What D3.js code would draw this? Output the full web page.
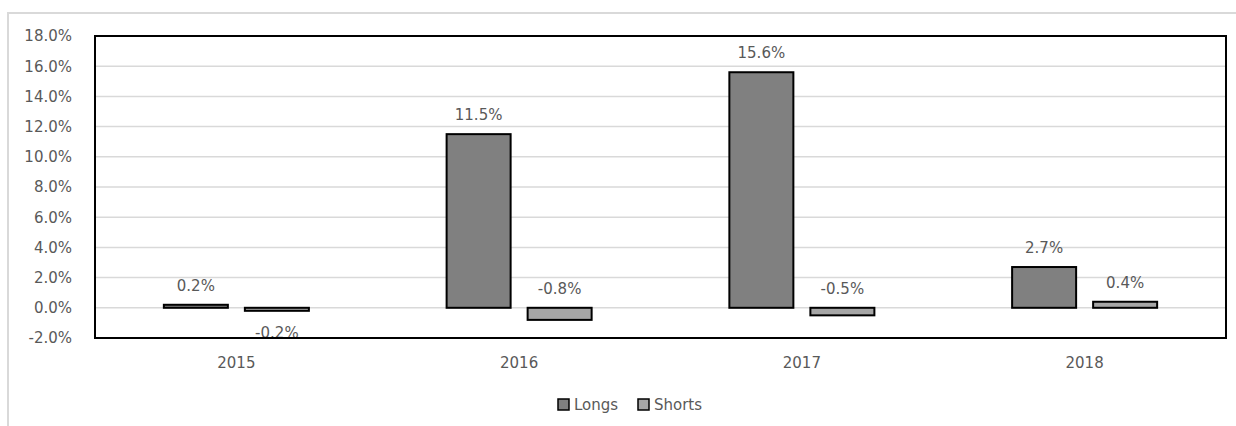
<!DOCTYPE html>
<html><head><meta charset="utf-8">
<script src="https://cdn.jsdelivr.net/npm/d3@7"></script>
<style>body{margin:0;background:#fff}svg{display:block}text{font-family:"DejaVu Sans",sans-serif}</style>
</head><body><svg id="c" width="1236" height="426"></svg>
<script>
const categories = ["2015","2016","2017","2018"];
const seriesNames = ["Longs","Shorts"];
const longs = [0.2, 11.5, 15.6, 2.7];
const shorts = [-0.2, -0.8, -0.5, 0.4];
const shortLabelSide = ["below","above","above","above"];
const yTicks = [-2,0,2,4,6,8,10,12,14,16,18];
const colors = {Longs:"#808080", Shorts:"#a6a6a6"};
const FONT = "'DejaVu Sans',sans-serif", FS = 15, TXT = "#595959";

const svg = d3.select("#c");
const M = {l:95, r:1226, t:36, b:338};
svg.append("path").attr("d","M8,426V13H1236").attr("fill","none").attr("stroke","#d9d9d9").attr("stroke-width",2);

const x = d3.scaleBand().domain(categories).range([M.l,M.r]);
const x1 = d3.scaleBand().domain(seriesNames).range([0,x.bandwidth()]).paddingInner(0.21).paddingOuter(0.85);
const y = d3.scaleLinear().domain([-2,18]).range([M.b,M.t]);
const fmt = v => v.toFixed(1)+"%";

svg.append("g").selectAll("line").data(yTicks.filter(t=>t!==-2 && t!==18)).join("line")
  .attr("x1",M.l).attr("x2",M.r).attr("y1",d=>y(d)).attr("y2",d=>y(d))
  .attr("stroke","#d9d9d9").attr("stroke-width",1.5);

const ya = svg.append("g").attr("transform",`translate(${M.l-20},0)`)
  .call(d3.axisLeft(y).tickValues(yTicks).tickFormat(fmt).tickSize(0));
ya.select(".domain").remove();
ya.selectAll("text").attr("font-size",FS).attr("fill",TXT).attr("font-family",FONT);

const xa = svg.append("g").attr("transform",`translate(0,${M.b+16})`)
  .call(d3.axisBottom(x).tickSize(0));
xa.select(".domain").remove();
xa.selectAll("text").attr("font-size",FS).attr("fill",TXT).attr("font-family",FONT);

const rows = categories.map((c,i)=>({c, vals:[{s:"Longs",v:longs[i],side:"auto"},{s:"Shorts",v:shorts[i],side:shortLabelSide[i]}]}));
const g = svg.append("g").selectAll("g").data(rows).join("g").attr("transform",d=>`translate(${x(d.c)},0)`);
g.selectAll("rect").data(d=>d.vals).join("rect")
  .attr("x",d=>x1(d.s)).attr("width",x1.bandwidth())
  .attr("y",d=>y(Math.max(0,d.v))).attr("height",d=>Math.abs(y(d.v)-y(0)))
  .attr("fill",d=>colors[d.s]).attr("stroke","#000").attr("stroke-width",2);
g.selectAll("text").data(d=>d.vals).join("text")
  .attr("x",d=>x1(d.s)+x1.bandwidth()/2)
  .attr("y",d=>{
    if(d.v>=0) return y(d.v)-19;
    if(d.side==="above") return y(0)-19;
    return y(d.v)+22;
  })
  .attr("dy","0.35em").attr("text-anchor","middle").attr("font-size",FS).attr("fill",TXT).attr("font-family",FONT)
  .text(d=>fmt(d.v));

svg.append("rect").attr("x",M.l).attr("y",M.t).attr("width",M.r-M.l).attr("height",M.b-M.t)
  .attr("fill","none").attr("stroke","#000").attr("stroke-width",2);

const lg = svg.append("g");
const legItems = [{s:"Longs",x:558},{s:"Shorts",x:638}];
lg.selectAll("rect").data(legItems).join("rect").attr("x",d=>d.x).attr("y",399).attr("width",11).attr("height",11)
  .attr("fill",d=>colors[d.s]).attr("stroke","#000").attr("stroke-width",1.5);
lg.selectAll("text").data(legItems).join("text").attr("x",d=>d.x+16).attr("y",405).attr("dy","0.35em")
  .attr("font-size",FS).attr("fill",TXT).attr("font-family",FONT).text(d=>d.s);
</script></body></html>
